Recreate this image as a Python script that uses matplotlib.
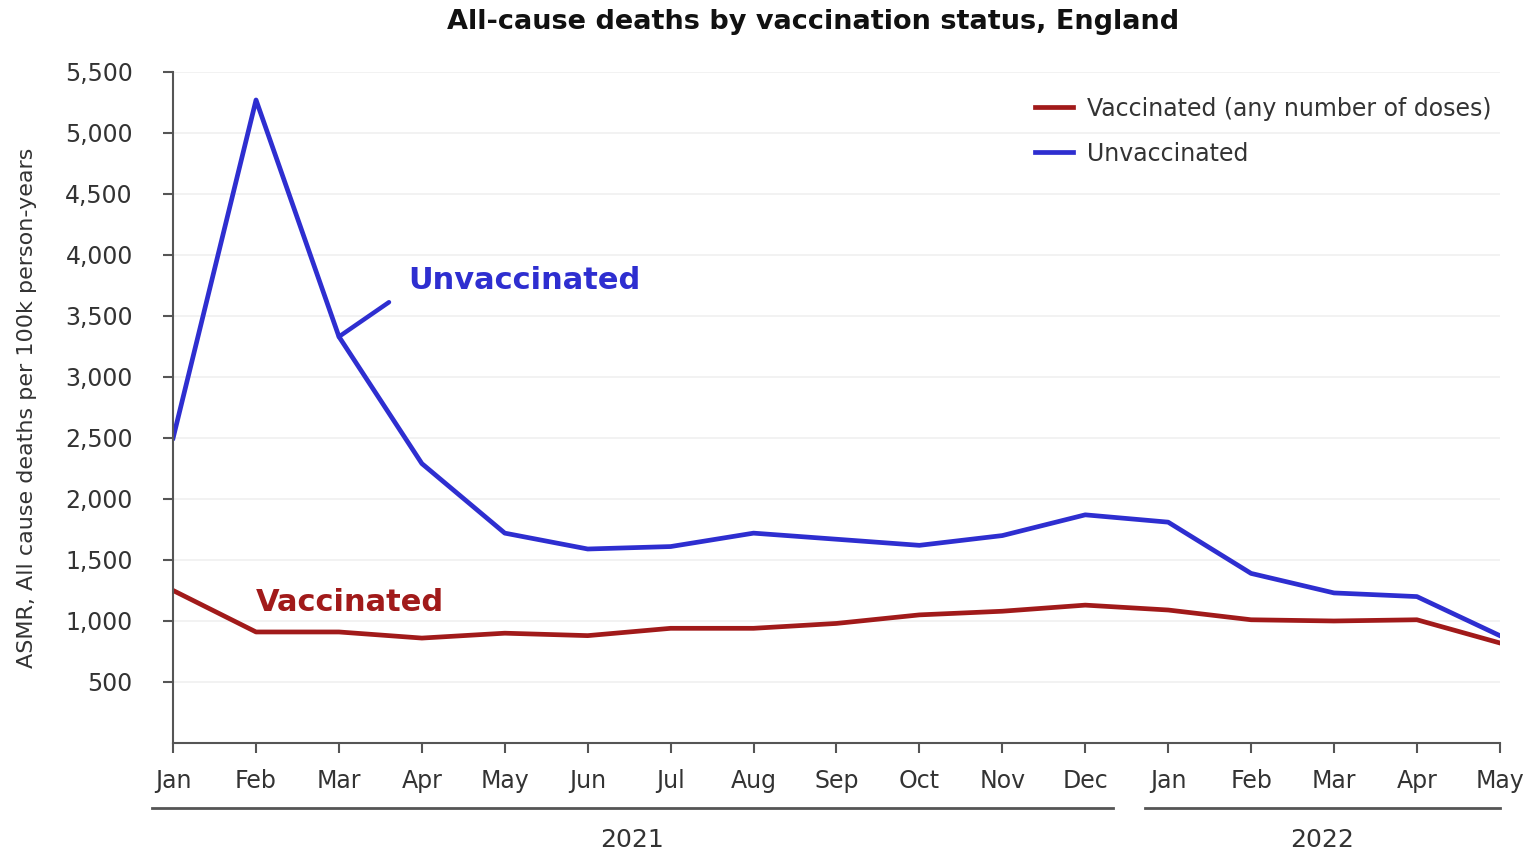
import matplotlib
matplotlib.use('Agg')
import matplotlib.pyplot as plt
import matplotlib.transforms as mtransforms

# monthly ASMR values, Jan 2021 .. May 2022
months = ['Jan', 'Feb', 'Mar', 'Apr', 'May', 'Jun', 'Jul', 'Aug', 'Sep',
          'Oct', 'Nov', 'Dec', 'Jan', 'Feb', 'Mar', 'Apr', 'May']
vaccinated = [1250, 910, 910, 860, 900, 880, 940, 940, 980,
              1050, 1080, 1130, 1090, 1010, 1000, 1010, 820]
unvaccinated = [2500, 5270, 3330, 2290, 1720, 1590, 1610, 1720, 1670,
                1620, 1700, 1870, 1810, 1390, 1230, 1200, 880]
years = ['2021', '2022']
year_spans = [(-0.25, 11.33), (11.72, 16.0)]

red = '#a11a1a'
blue = '#2e2ed0'
grey = '#555555'

plt.rcParams['font.family'] = ['DejaVu Sans']

fig = plt.figure(figsize=(15.32, 8.56), dpi=100)
ax = fig.add_axes([0.113, 0.132, 0.866, 0.784])

x = list(range(len(months)))
ax.plot(x, vaccinated, color=red, lw=3.4, label='Vaccinated (any number of doses)')
ax.plot(x, unvaccinated, color=blue, lw=3.4, label='Unvaccinated')

ax.set_xlim(0, 16)
ax.set_ylim(0, 5500)
ax.set_yticks(range(500, 5501, 500))
ax.set_yticklabels(['{:,}'.format(v) for v in range(500, 5501, 500)])
ax.set_xticks(x)
ax.set_xticklabels(months)
ax.yaxis.grid(True, color='#f0f0f0', lw=1.2)
ax.set_axisbelow(True)

for s in ['top', 'right']:
    ax.spines[s].set_visible(False)
for s in ['left', 'bottom']:
    ax.spines[s].set_color(grey)
    ax.spines[s].set_linewidth(1.5)
ax.tick_params(axis='both', colors=grey, labelcolor='#333333', labelsize=17,
               length=7, width=1.5, direction='out')
ax.tick_params(axis='x', pad=12)
ax.tick_params(axis='y', pad=22)

ax.set_ylabel('ASMR, All cause deaths per 100k person-years', fontsize=16,
              color='#333333', labelpad=20)
fig.text(0.531, 0.974, 'All-cause deaths by vaccination status, England',
         fontsize=19.5, fontweight='bold', color='#111111',
         ha='center', va='center')

leg = ax.legend(loc='upper right', bbox_to_anchor=(1.01, 0.995), frameon=False,
                fontsize=17, handlelength=1.6, labelspacing=0.9,
                handletextpad=0.6)
for t in leg.get_texts():
    t.set_color('#333333')

# inline labels
ax.annotate('Unvaccinated', xy=(2, unvaccinated[2]), xytext=(2.83, 3790),
            fontsize=22, fontweight='bold', color=blue, va='center',
            arrowprops=dict(arrowstyle='-', color=blue, lw=3.2,
                            shrinkA=14, shrinkB=0, relpos=(0, 0.2)))
ax.text(2.13, 1150, 'Vaccinated', fontsize=22, fontweight='bold', color=red,
        ha='center', va='center')

# year brackets under the month labels
trans = mtransforms.blended_transform_factory(ax.transData, ax.transAxes)
for yr, (a, b) in zip(years, year_spans):
    ax.plot([a, b], [-0.097, -0.097], color=grey, lw=2, transform=trans,
            clip_on=False)
    ax.text((a + b) / 2, -0.145, yr, transform=trans, ha='center', va='center',
            fontsize=18, color='#333333')

fig.savefig('out.png', dpi=100)
